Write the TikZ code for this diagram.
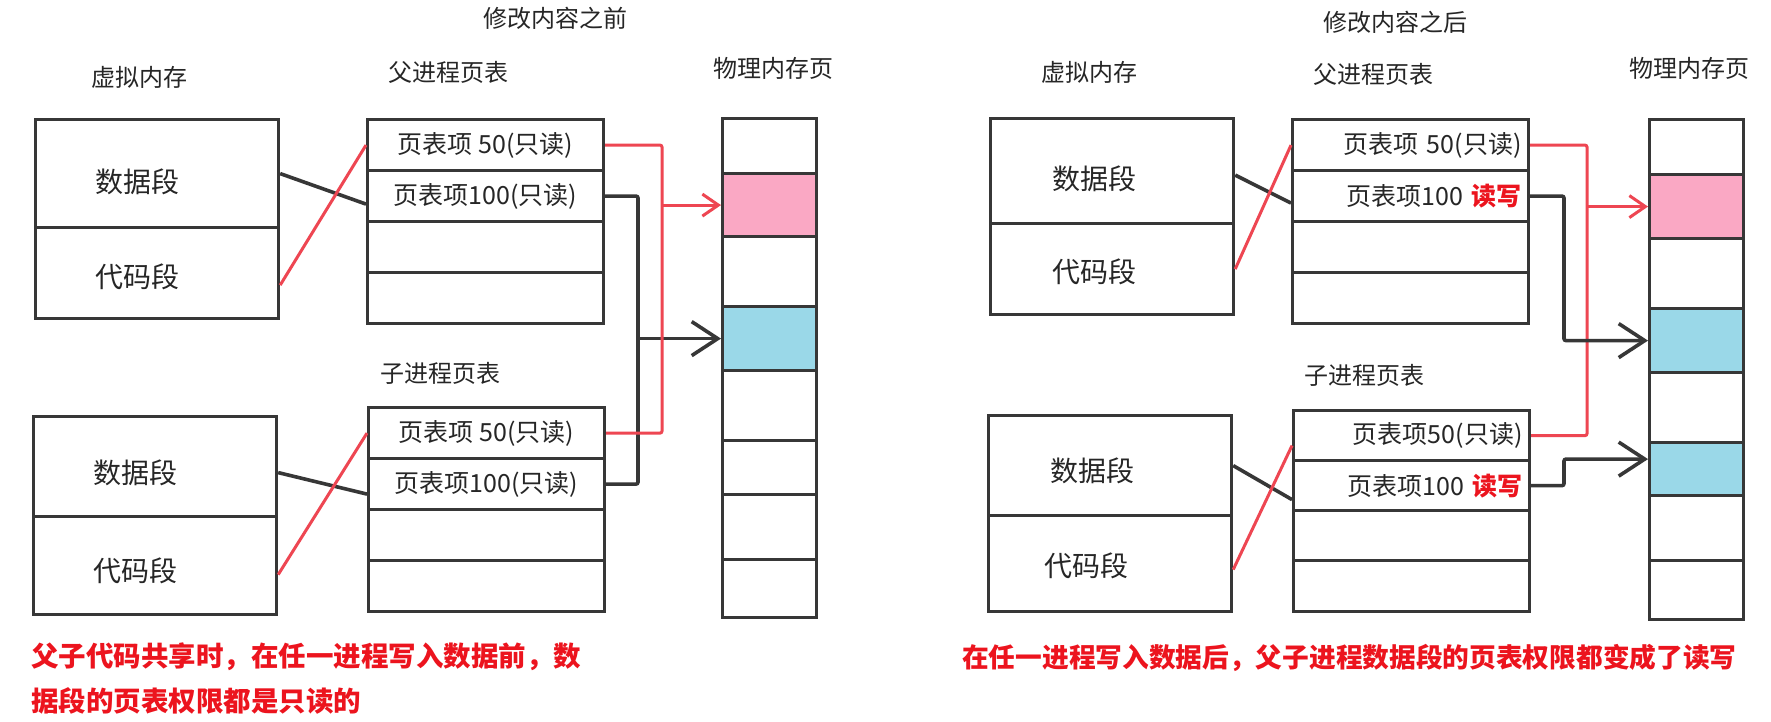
\documentclass[tikz,border=0pt]{standalone}
\usepackage{fontspec}
\setmainfont{Noto Sans CJK SC}
\usetikzlibrary{arrows.meta,calc}
\definecolor{pinkc}{RGB}{250,168,196}
\definecolor{bluec}{RGB}{154,216,232}
\definecolor{redl}{RGB}{238,70,82}
\definecolor{redt}{RGB}{236,20,30}
\definecolor{linec}{RGB}{55,55,55}
\tikzset{
  seg/.style={draw=linec, line width=3.2pt, minimum width=243pt, inner sep=0pt, anchor=north west},
  segtxt/.style={font=\fontsize{28}{32}\selectfont, text=black!85, inner sep=0pt},
  tabrow/.style={draw=linec, line width=3.2pt, minimum width=236pt, minimum height=51pt, inner sep=0pt, anchor=north west, font=\fontsize{25}{28}\selectfont, text=black!85},
  rtabrow/.style={tabrow, text width=222pt, align=right},
  cell/.style={draw=linec, line width=3.2pt, minimum width=94pt, inner sep=0pt, anchor=north west},
  head/.style={font=\fontsize{24}{28}\selectfont, text=black!85, inner sep=0pt},
  note/.style={font=\bfseries, text=redt, anchor=west, inner sep=0pt},
  wire/.style={draw=linec, line width=3.6pt, rounded corners=2pt},
  rwire/.style={draw=redl, line width=3pt, rounded corners=2pt},
  barb/.style={-{Straight Barb[length=26pt,width=34pt,line width=3.6pt]}},
  rbarb/.style={-{Straight Barb[length=16pt,width=22pt,line width=3pt]}}
}
\begin{document}
\begin{tikzpicture}[x=1pt,y=-1pt]
\useasboundingbox[fill=white] (0,0) rectangle (1771,722);

% ================= LEFT PANEL =================
\node[head] (tL) at (555,18) {修改内容之前};
\node[head] (vmL) at (139,77) {虚拟内存};
\node[head] (ptL) at (448,72) {父进程页表};
\node[head] (pmL) at (773,68) {物理内存页};
\node[head] (ctL) at (440,373) {子进程页表};

% virtual memory (parent)
\node[seg, minimum height=108pt] (vd) at (34,118) {};
\node[seg, minimum height=91pt] (vc) at (34,226) {};
\node[segtxt] (vdt) at ([xshift=-20pt,yshift=-8pt]vd.center) {数据段};
\node[segtxt] (vct) at ([xshift=-20pt,yshift=-4pt]vc.center) {代码段};
% virtual memory (child)
\node[seg, minimum height=100pt] (cvd) at (32,415) {};
\node[seg, minimum height=98pt] (cvc) at (32,515) {};
\node[segtxt] (cvdt) at ([xshift=-20pt,yshift=-6pt]cvd.center) {数据段};
\node[segtxt] (cvct) at ([xshift=-20pt,yshift=-5pt]cvc.center) {代码段};

% parent page table
\node[tabrow] (p1) at (366,118) {页表项 50(只读)};
\node[tabrow] (p2) at (366,169) {页表项100(只读)};
\node[tabrow] (p3) at (366,220) {};
\node[tabrow] (p4) at (366,271) {};
% child page table
\node[tabrow] (c1) at (367,406) {页表项 50(只读)};
\node[tabrow] (c2) at (367,457) {页表项100(只读)};
\node[tabrow] (c3) at (367,508) {};
\node[tabrow] (c4) at (367,559) {};

% physical memory
\node[cell, minimum height=55pt] (m1) at (721,117) {};
\node[cell, minimum height=63pt, fill=pinkc] (m2) at (721,172) {};
\node[cell, minimum height=70pt] (m3) at (721,235) {};
\node[cell, minimum height=64pt, fill=bluec] (m4) at (721,305) {};
\node[cell, minimum height=70pt] (m5) at (721,369) {};
\node[cell, minimum height=54pt] (m6) at (721,439) {};
\node[cell, minimum height=65pt] (m7) at (721,493) {};
\node[cell, minimum height=58pt] (m8) at (721,558) {};

% connectors
\coordinate (rxL) at (662,0);
\coordinate (bxL) at (638,0);
\draw[wire] (vd.east) -- ([yshift=-8pt]p2.west);
\draw[rwire] ([yshift=-12pt]vc.east) -- (p1.west);
\draw[wire] ([yshift=-6pt]cvd.east) -- ([yshift=-10pt]c2.west);
\draw[rwire] ([yshift=-9pt]cvc.east) -- (c1.west);
\draw[wire] (p2.east) -| (c2.east -| bxL) -- (c2.east);
\draw[wire, barb] (m4.west -| bxL) -- (m4.west);
\draw[rwire] (p1.east) -| (c1.east -| rxL) -- (c1.east);
\draw[rwire, rbarb] (m2.west -| rxL) -- (m2.west);

\node[note, font=\fontsize{27.5}{32}\selectfont\bfseries] (nL1) at (31,657) {父子代码共享时，在任一进程写入数据前，数};
\node[note, font=\fontsize{27.5}{32}\selectfont\bfseries] (nL2) at (31,701) {据段的页表权限都是只读的};

% ================= RIGHT PANEL =================
\node[head] (tR) at (1395,22) {修改内容之后};
\node[head] (vmR) at (1089,72) {虚拟内存};
\node[head] (ptR) at (1373,74) {父进程页表};
\node[head] (pmR) at (1689,68) {物理内存页};
\node[head] (ctR) at (1364,375) {子进程页表};

\node[seg, minimum height=105pt] (Rvd) at (989,117) {};
\node[seg, minimum height=91pt] (Rvc) at (989,222) {};
\node[segtxt] (Rvdt) at ([xshift=-18pt,yshift=-8pt]Rvd.center) {数据段};
\node[segtxt] (Rvct) at ([xshift=-18pt,yshift=-3pt]Rvc.center) {代码段};
\node[seg, minimum height=100pt] (Rcvd) at (987,414) {};
\node[seg, minimum height=96pt] (Rcvc) at (987,514) {};
\node[segtxt] (Rcvdt) at ([xshift=-18pt,yshift=-5pt]Rcvd.center) {数据段};
\node[segtxt] (Rcvct) at ([xshift=-24pt,yshift=-2pt]Rcvc.center) {代码段};

\node[rtabrow] (Rp1) at (1291,118) {页表项 50(只读)};
\node[rtabrow] (Rp2) at (1291,169) {页表项100 \textcolor{redt}{\bfseries 读写}};
\node[rtabrow] (Rp3) at (1291,220) {};
\node[rtabrow] (Rp4) at (1291,271) {};
\node[rtabrow, minimum height=50pt] (Rc1) at (1292,409) {页表项50(只读)};
\node[rtabrow, minimum height=50pt] (Rc2) at (1292,459) {页表项100 \textcolor{redt}{\bfseries 读写}};
\node[rtabrow, minimum height=50pt] (Rc3) at (1292,509) {};
\node[rtabrow, minimum height=51pt] (Rc4) at (1292,559) {};

\node[cell, minimum height=55pt] (rm1) at (1648,118) {};
\node[cell, minimum height=64pt, fill=pinkc] (rm2) at (1648,173) {};
\node[cell, minimum height=70pt] (rm3) at (1648,237) {};
\node[cell, minimum height=64pt, fill=bluec] (rm4) at (1648,307) {};
\node[cell, minimum height=70pt] (rm5) at (1648,371) {};
\node[cell, minimum height=53pt, fill=bluec] (rm6) at (1648,441) {};
\node[cell, minimum height=65pt] (rm7) at (1648,494) {};
\node[cell, minimum height=59pt] (rm8) at (1648,559) {};

\coordinate (rxR) at (1587,0);
\coordinate (bxR) at (1564,0);
\coordinate (t6) at ([yshift=10pt]rm6.west);
\draw[wire] ([yshift=-4pt]Rvd.east) -- ([yshift=-7pt]Rp2.west);
\draw[rwire] (Rvc.east) -- (Rp1.west);
\draw[wire] (Rcvd.east) -- ([yshift=-14pt]Rc2.west);
\draw[rwire] ([yshift=-6pt]Rcvc.east) -- ([yshift=-10pt]Rc1.west);
\draw[rwire] (Rp1.east) -| (Rc1.east -| rxR) -- (Rc1.east);
\draw[rwire, rbarb] (rm2.west -| rxR) -- (rm2.west);
\draw[wire, barb] (Rp2.east) -| (rm4.west -| bxR) -- (rm4.west);
\draw[wire, barb] (Rc2.east) -| (t6 -| bxR) -- (t6);

\node[note, font=\fontsize{26.7}{32}\selectfont\bfseries] (nR) at (962,658) {在任一进程写入数据后，父子进程数据段的页表权限都变成了读写};
\end{tikzpicture}
\end{document}
